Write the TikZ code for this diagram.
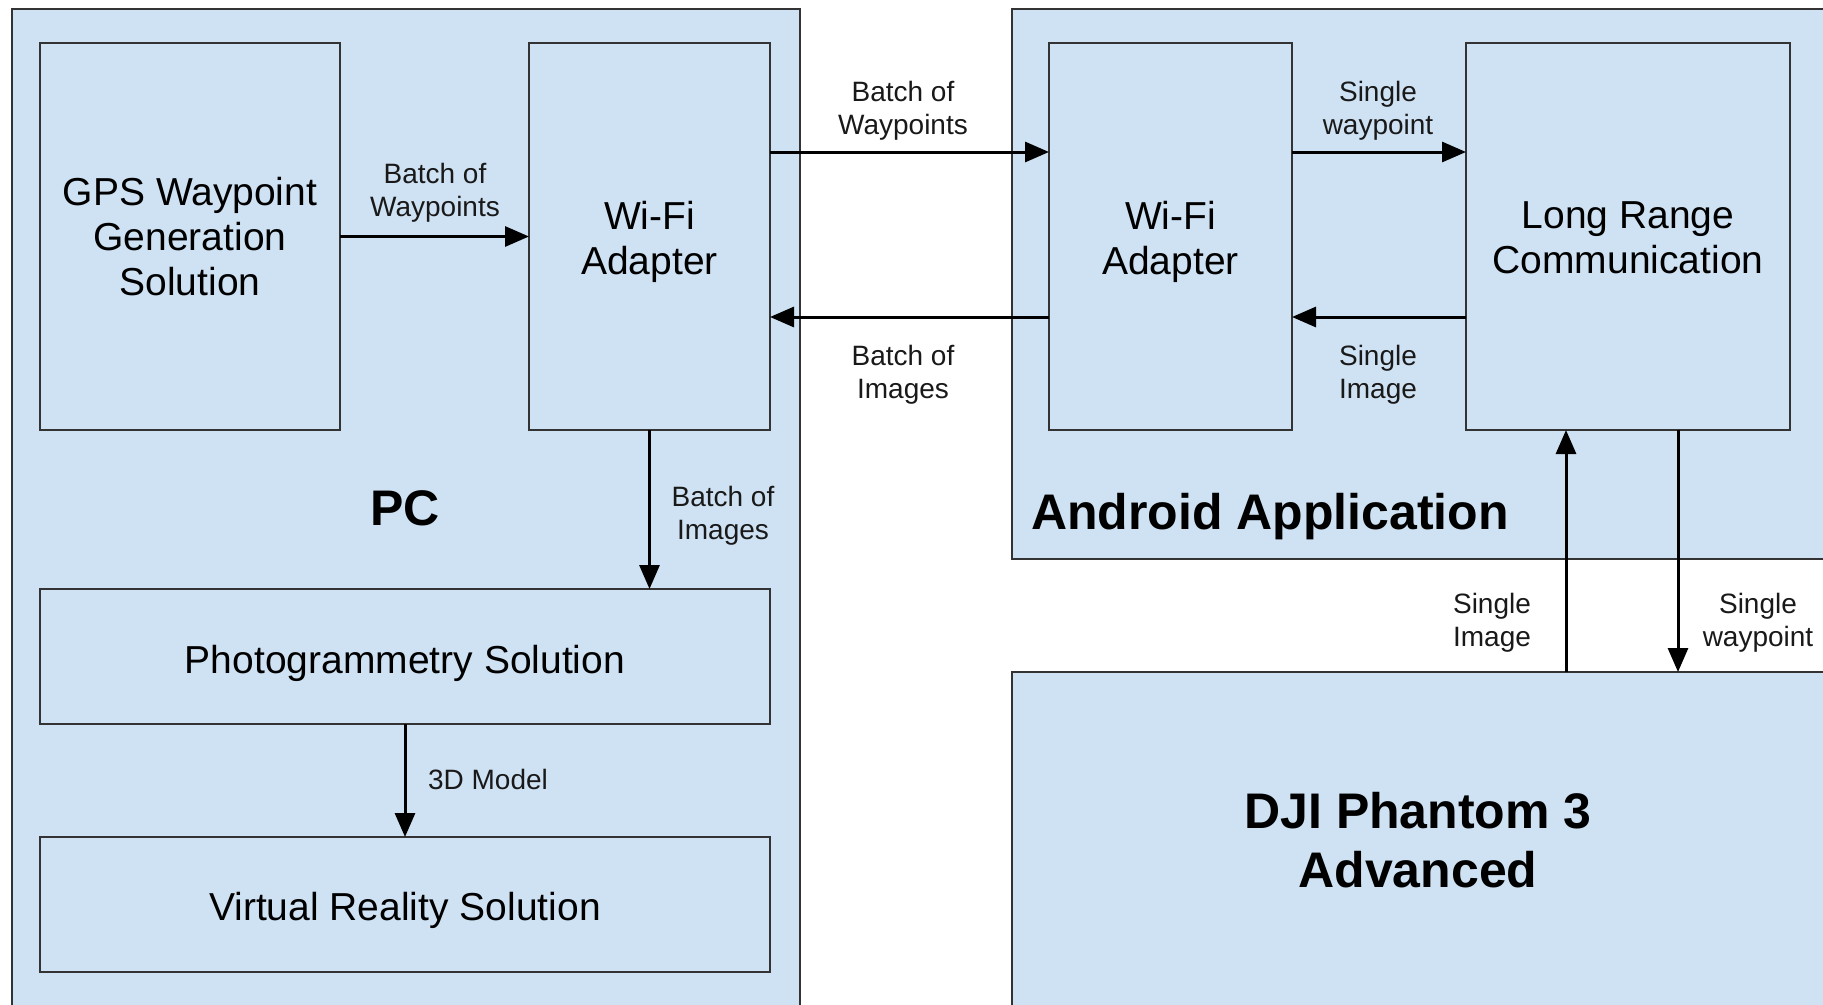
\documentclass[tikz,border=0pt]{standalone}
\usepackage{fontspec}
\setmainfont{Liberation Sans}
\usetikzlibrary{arrows.meta}
\definecolor{panelfill}{HTML}{CFE2F3}
\definecolor{edgecol}{HTML}{333333}
\newcommand{\shifttext}[2]{\raisebox{-#1}[\height][\depth]{\begin{tabular}{@{}c@{}}#2\end{tabular}}}
\begin{document}
\begin{tikzpicture}[x=1pt,y=-1pt,
  box/.style={draw=edgecol, line width=2pt, fill=panelfill, anchor=north west,
    inner sep=0pt, outer sep=0pt, align=center, font=\fontsize{39}{45}\selectfont},
  lbl/.style={align=center, font=\fontsize{28}{33}\selectfont, inner sep=0pt, text=black!90},
  arr/.style={line width=3pt, -{Triangle[length=24pt,width=20pt]}},
  big/.style={font=\fontsize{50}{59}\selectfont\bfseries, inner sep=0pt, align=center}]
\useasboundingbox (0,0) rectangle (1823,1004);
\clip (0,0) rectangle (1823,1004);
\fill[white] (0,0) rectangle (1823,1004);
% panels
\node[box, minimum width=788pt, minimum height=999pt] (pc) at (12,9) {};
\node[box, minimum width=812pt, minimum height=550pt] (android) at (1012,9) {};
\node[box, minimum width=812pt, minimum height=336pt, font=\fontsize{50}{59}\selectfont\bfseries] (dji) at (1012,672) {DJI Phantom 3\\Advanced};
% inner boxes
\node[box, minimum width=300pt, minimum height=387pt] (gps) at (40,43) {GPS Waypoint\\Generation\\Solution};
\node[box, minimum width=241pt, minimum height=387pt] (pcwifi) at (529,43) {\shifttext{6pt}{Wi-Fi\\Adapter}};
\node[box, minimum width=730pt, minimum height=135pt] (photo) at (40,589) {\shifttext{8pt}{Photogrammetry Solution}};
\node[box, minimum width=730pt, minimum height=135pt] (vr) at (40,837) {\shifttext{7pt}{Virtual Reality Solution}};
\node[box, minimum width=243pt, minimum height=387pt] (awifi) at (1049,43) {\shifttext{6pt}{Wi-Fi\\Adapter}};
\node[box, minimum width=324pt, minimum height=387pt] (longrange) at (1466,43) {\shifttext{5pt}{Long Range\\Communication}};
% panel titles
\node[big] (pclbl) at (405,508) {PC};
\node[big, anchor=west] (andlbl) at (1031,517) {Android Application};
% labels
\node[lbl] (l1) at (435,192.5) {Batch of\\Waypoints};
\node[lbl] (l2) at (903,110.5) {Batch of\\Waypoints};
\node[lbl] (l3) at (903,374.5) {Batch of\\Images};
\node[lbl] (l4) at (1378,110.5) {Single\\waypoint};
\node[lbl] (l5) at (1378,374.5) {Single\\Image};
\node[lbl] (l6) at (723,515.5) {Batch of\\Images};
\node[lbl] (l7) at (488,779) {3D Model};
\node[lbl] (l8) at (1492,622.5) {Single\\Image};
\node[lbl] (l9) at (1758,622.5) {Single\\waypoint};
% connectors
\draw[arr] (gps.east) -- (pcwifi.west);
\draw[arr] ([yshift=84.5pt]pcwifi.east) -- ([yshift=84.5pt]awifi.west);
\draw[arr] ([yshift=-80.5pt]awifi.west) -- ([yshift=-80.5pt]pcwifi.east);
\draw[arr] ([yshift=84.5pt]awifi.east) -- ([yshift=84.5pt]longrange.west);
\draw[arr] ([yshift=-80.5pt]longrange.west) -- ([yshift=-80.5pt]awifi.east);
\draw[arr] (pcwifi.south) -- (pcwifi.south |- photo.north);
\draw[arr] (photo.south) -- (vr.north);
\draw[arr] ([xshift=-62pt]longrange.south |- dji.north) -- ([xshift=-62pt]longrange.south);
\draw[arr] ([xshift=50pt]longrange.south) -- ([xshift=50pt]longrange.south |- dji.north);
\end{tikzpicture}
\end{document}
